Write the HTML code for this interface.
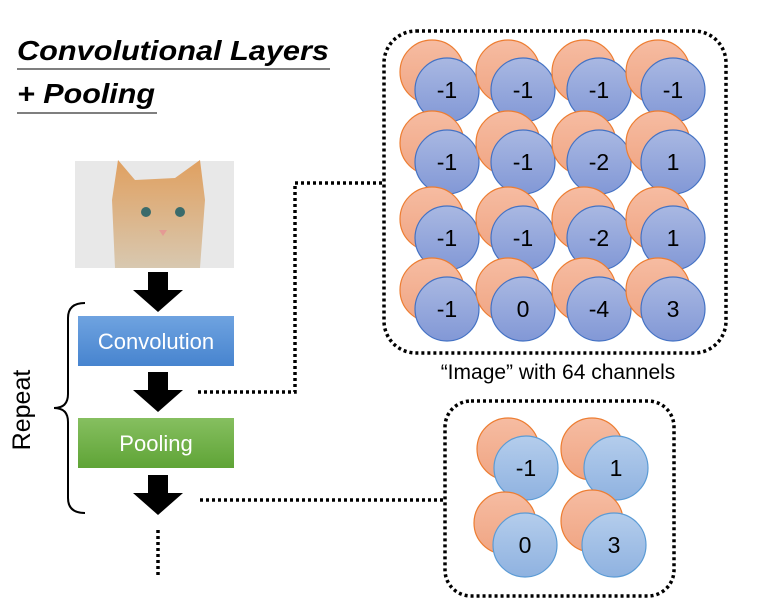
<!DOCTYPE html>
<html><head><meta charset="utf-8"><style>
body{margin:0;background:#fff;}
svg{display:block;font-family:"Liberation Sans",sans-serif;}
</style></head><body>
<svg width="758" height="606" viewBox="0 0 758 606" xmlns="http://www.w3.org/2000/svg">
<defs>
<linearGradient id="bl" x1="0" y1="0" x2="0" y2="1"><stop offset="0" stop-color="#a9b8e2"/><stop offset="1" stop-color="#8298d6"/></linearGradient>
<linearGradient id="bl2" x1="0" y1="0" x2="0" y2="1"><stop offset="0" stop-color="#b4cdec"/><stop offset="1" stop-color="#8fb2e0"/></linearGradient>
<linearGradient id="or" x1="0" y1="0" x2="0" y2="1"><stop offset="0" stop-color="#f6bca2"/><stop offset="1" stop-color="#f0a583"/></linearGradient>
<linearGradient id="cv" x1="0" y1="0" x2="0" y2="1"><stop offset="0" stop-color="#6fa3e0"/><stop offset="1" stop-color="#4784cf"/></linearGradient>
<linearGradient id="pl" x1="0" y1="0" x2="0" y2="1"><stop offset="0" stop-color="#86bf60"/><stop offset="1" stop-color="#5fa436"/></linearGradient>
<linearGradient id="cat" x1="0" y1="0" x2="0" y2="1"><stop offset="0" stop-color="#e0a060"/><stop offset="1" stop-color="#d8c8b0"/></linearGradient>
</defs>
<text x="17" y="60" font-size="28" font-weight="bold" font-style="italic" textLength="312" lengthAdjust="spacingAndGlyphs">Convolutional Layers</text>
<line x1="17" y1="69" x2="330" y2="69" stroke="#555" stroke-width="1.5"/>
<text x="17" y="103" font-size="28" font-weight="bold" font-style="italic" textLength="138" lengthAdjust="spacingAndGlyphs">+ Pooling</text>
<line x1="17" y1="113" x2="157" y2="113" stroke="#555" stroke-width="1.5"/>
<rect x="75" y="161" width="159" height="107" fill="#e8e8e8"/>
<path d="M115 268 L112 200 L118 160 L135 180 L175 178 L200 160 L205 200 L200 268 Z" fill="url(#cat)"/>
<circle cx="146" cy="212" r="5" fill="#3a6b6b"/><circle cx="180" cy="212" r="5" fill="#3a6b6b"/>
<path d="M159 230 L167 230 L163 236 Z" fill="#e49a94"/>
<g fill="#000">
<path d="M148 272 H168 V290 H183 L158 312 L133 290 H148 Z"/>
<path d="M148 372 H168 V390 H183 L158 412 L133 390 H148 Z"/>
<path d="M148 475 H168 V493 H183 L158 515 L133 493 H148 Z"/>
</g>
<rect x="78" y="316" width="156" height="50" fill="url(#cv)"/>
<text x="156" y="349" font-size="22" fill="#fff" text-anchor="middle">Convolution</text>
<rect x="78" y="418" width="156" height="50" fill="url(#pl)"/>
<text x="156" y="451" font-size="22" fill="#fff" text-anchor="middle">Pooling</text>
<path d="M85 303 Q68 303 68 318 V394 Q68 408 54 408 Q68 408 68 422 V498 Q68 513 85 513" fill="none" stroke="#000" stroke-width="2"/>
<text transform="translate(30,410) rotate(-90)" font-size="25" text-anchor="middle">Repeat</text>
<g stroke="#000" stroke-width="3.5" stroke-dasharray="3 3" fill="none">
<path d="M198 392 H295 V183 H382"/>
<path d="M200 500 H445"/>
<path d="M158 530 V575"/>
<rect x="384" y="31" width="342" height="322" rx="32"/>
<rect x="445" y="401" width="229" height="195" rx="26"/>
</g>
<g stroke-width="1.2">
<circle cx="432" cy="72" r="32" fill="url(#or)" stroke="#ed7d31"/><circle cx="447" cy="90" r="32" fill="url(#bl)" stroke="#4472c4"/>
<circle cx="508" cy="72" r="32" fill="url(#or)" stroke="#ed7d31"/><circle cx="523" cy="90" r="32" fill="url(#bl)" stroke="#4472c4"/>
<circle cx="584" cy="72" r="32" fill="url(#or)" stroke="#ed7d31"/><circle cx="599" cy="90" r="32" fill="url(#bl)" stroke="#4472c4"/>
<circle cx="658" cy="72" r="32" fill="url(#or)" stroke="#ed7d31"/><circle cx="673" cy="90" r="32" fill="url(#bl)" stroke="#4472c4"/>
<circle cx="432" cy="143" r="32" fill="url(#or)" stroke="#ed7d31"/><circle cx="447" cy="162" r="32" fill="url(#bl)" stroke="#4472c4"/>
<circle cx="508" cy="143" r="32" fill="url(#or)" stroke="#ed7d31"/><circle cx="523" cy="162" r="32" fill="url(#bl)" stroke="#4472c4"/>
<circle cx="584" cy="143" r="32" fill="url(#or)" stroke="#ed7d31"/><circle cx="599" cy="162" r="32" fill="url(#bl)" stroke="#4472c4"/>
<circle cx="658" cy="143" r="32" fill="url(#or)" stroke="#ed7d31"/><circle cx="673" cy="162" r="32" fill="url(#bl)" stroke="#4472c4"/>
<circle cx="432" cy="219" r="32" fill="url(#or)" stroke="#ed7d31"/><circle cx="447" cy="238" r="32" fill="url(#bl)" stroke="#4472c4"/>
<circle cx="508" cy="219" r="32" fill="url(#or)" stroke="#ed7d31"/><circle cx="523" cy="238" r="32" fill="url(#bl)" stroke="#4472c4"/>
<circle cx="584" cy="219" r="32" fill="url(#or)" stroke="#ed7d31"/><circle cx="599" cy="238" r="32" fill="url(#bl)" stroke="#4472c4"/>
<circle cx="658" cy="219" r="32" fill="url(#or)" stroke="#ed7d31"/><circle cx="673" cy="238" r="32" fill="url(#bl)" stroke="#4472c4"/>
<circle cx="432" cy="290" r="32" fill="url(#or)" stroke="#ed7d31"/><circle cx="447" cy="309" r="32" fill="url(#bl)" stroke="#4472c4"/>
<circle cx="508" cy="290" r="32" fill="url(#or)" stroke="#ed7d31"/><circle cx="523" cy="309" r="32" fill="url(#bl)" stroke="#4472c4"/>
<circle cx="584" cy="290" r="32" fill="url(#or)" stroke="#ed7d31"/><circle cx="599" cy="309" r="32" fill="url(#bl)" stroke="#4472c4"/>
<circle cx="658" cy="290" r="32" fill="url(#or)" stroke="#ed7d31"/><circle cx="673" cy="309" r="32" fill="url(#bl)" stroke="#4472c4"/>
<circle cx="508" cy="449" r="31" fill="url(#or)" stroke="#ed7d31"/><circle cx="526" cy="468" r="32" fill="url(#bl2)" stroke="#5b9bd5"/>
<circle cx="592" cy="449" r="31" fill="url(#or)" stroke="#ed7d31"/><circle cx="616" cy="468" r="32" fill="url(#bl2)" stroke="#5b9bd5"/>
<circle cx="505" cy="523" r="31" fill="url(#or)" stroke="#ed7d31"/><circle cx="525" cy="545" r="32" fill="url(#bl2)" stroke="#5b9bd5"/>
<circle cx="592" cy="521" r="31" fill="url(#or)" stroke="#ed7d31"/><circle cx="614" cy="545" r="32" fill="url(#bl2)" stroke="#5b9bd5"/>
</g>
<g font-size="23" text-anchor="middle" fill="#000">
<text x="447" y="98">-1</text><text x="523" y="98">-1</text><text x="599" y="98">-1</text><text x="673" y="98">-1</text>
<text x="447" y="170">-1</text><text x="523" y="170">-1</text><text x="599" y="170">-2</text><text x="673" y="170">1</text>
<text x="447" y="246">-1</text><text x="523" y="246">-1</text><text x="599" y="246">-2</text><text x="673" y="246">1</text>
<text x="447" y="317">-1</text><text x="523" y="317">0</text><text x="599" y="317">-4</text><text x="673" y="317">3</text>
<text x="526" y="476">-1</text><text x="616" y="476">1</text>
<text x="525" y="553">0</text><text x="614" y="553">3</text>
</g>
<text x="558" y="379" font-size="21" text-anchor="middle">“Image” with 64 channels</text>
</svg>
</body></html>
